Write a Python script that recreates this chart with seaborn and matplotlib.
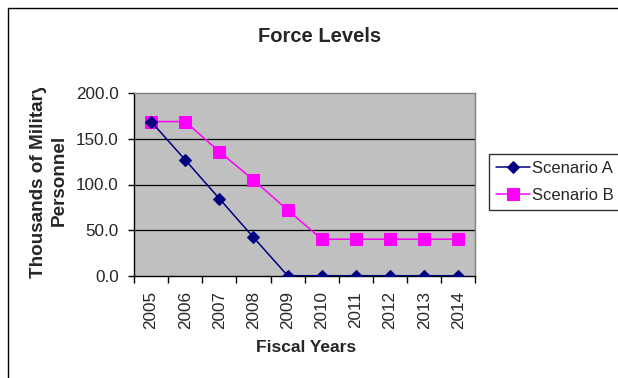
import matplotlib
matplotlib.use("Agg")
import matplotlib.pyplot as plt
import matplotlib.patches as mpatches
from matplotlib.transforms import Bbox
from matplotlib.ticker import FixedLocator, NullFormatter
import numpy as np
import pandas as pd
import seaborn as sns

# Force level projections (thousands of personnel) per fiscal year
years = [2005, 2006, 2007, 2008, 2009, 2010, 2011, 2012, 2013, 2014]
scenario_a = [169.0, 127.0, 84.5, 42.0, 0.0, 0.0, 0.0, 0.0, 0.0, 0.0]
scenario_b = [169.0, 169.0, 136.0, 105.0, 72.0, 40.0, 40.0, 40.0, 40.0, 40.0]
series_names = ["Scenario A", "Scenario B"]
y_ticks = [0, 50, 100, 150, 200]

df = pd.DataFrame({
    "year": years * 2,
    "value": scenario_a + scenario_b,
    "series": [series_names[0]] * len(years) + [series_names[1]] * len(years),
})

sns.set_theme(style="white")
plt.rcParams["font.family"] = ["Liberation Sans", "DejaVu Sans"]

W, H = 618, 378
fig = plt.figure(figsize=(W / 100, H / 100), dpi=100)
fig.patch.set_facecolor("white")

# chart-area border (runs off the right and bottom edges)
fig.patches.append(mpatches.Rectangle((8 / W, -0.1), 1.2, 1.1 - 8 / H,
                                      transform=fig.transFigure, fill=False,
                                      edgecolor="black", linewidth=1.0))

ax = fig.add_axes([134 / W, 102.3 / H, 341.4 / W, 182.4 / H])
ax.set_facecolor("#C0C0C0")

palette = {"Scenario A": "#000080", "Scenario B": "#FF00FF"}
markers = {"Scenario A": "D", "Scenario B": "s"}
sizes_m = {"Scenario A": 6, "Scenario B": 8.5}

for name in series_names:
    sub = df[df["series"] == name]
    sns.lineplot(data=sub, x="year", y="value", ax=ax, color=palette[name],
                 marker=markers[name], markersize=sizes_m[name],
                 markeredgecolor=palette[name], linewidth=1.1,
                 label=name, legend=False, zorder=3 if name == "Scenario A" else 2)

ax.set_xlim(years[0] - 0.5, years[-1] + 0.5)
ax.set_ylim(0, 200)

# horizontal grid
for v in y_ticks[1:-1]:
    ax.axhline(v, color="black", linewidth=0.9, zorder=1)

for side in ["top", "right"]:
    ax.spines[side].set_color("#808080")
    ax.spines[side].set_linewidth(1.0)
for side in ["left", "bottom"]:
    ax.spines[side].set_color("black")
    ax.spines[side].set_linewidth(1.0)

ax.set_yticks(y_ticks)
ax.set_yticklabels([f"{v:.1f}" for v in y_ticks], fontsize=12.3)
ax.tick_params(axis="y", direction="out", length=4, width=1, color="black",
               pad=7, left=True)

# category boundaries get tick marks; labels sit at category centres
ax.xaxis.set_major_locator(FixedLocator(np.arange(years[0] - 0.5, years[-1] + 1.0, 1.0)))
ax.xaxis.set_major_formatter(NullFormatter())
ax.xaxis.set_minor_locator(FixedLocator(years))
ax.set_xticklabels([str(y) for y in years], minor=True, rotation=90, fontsize=12.3)
ax.tick_params(axis="x", which="major", direction="out", length=5, width=1,
               color="black", bottom=True)
ax.tick_params(axis="x", which="minor", length=0, pad=11, bottom=True)

ax.set_xlabel("")
ax.set_ylabel("")

fig.text(320 / W, 1 - 36 / H, "Force Levels", ha="center", va="center",
         fontsize=14.5, fontweight="bold")
fig.text(306 / W, 1 - 348 / H, "Fiscal Years", ha="center", va="center",
         fontsize=12.5, fontweight="bold")
ylab = fig.text(49 / W, 1 - 180 / H, "Thousands of Military\nPersonnel",
                ha="center", va="center", rotation=90, fontsize=13.6,
                fontweight="bold", linespacing=1.25, multialignment="center")
ylab.set_clip_box(Bbox.from_extents(0, 0, W, H - 88))
ylab.set_clip_on(True)

handles, labels = ax.get_legend_handles_labels()
leg = fig.legend(handles, labels, loc="upper left",
                 bbox_to_anchor=(489 / W, 1 - 154 / H),
                 frameon=True, fancybox=False, fontsize=12,
                 handlelength=2.05, handletextpad=0.15, borderpad=0.4,
                 labelspacing=0.75, borderaxespad=0)
leg.get_frame().set_edgecolor("black")
leg.get_frame().set_linewidth(1.0)

fig.savefig("out.png", dpi=100)
